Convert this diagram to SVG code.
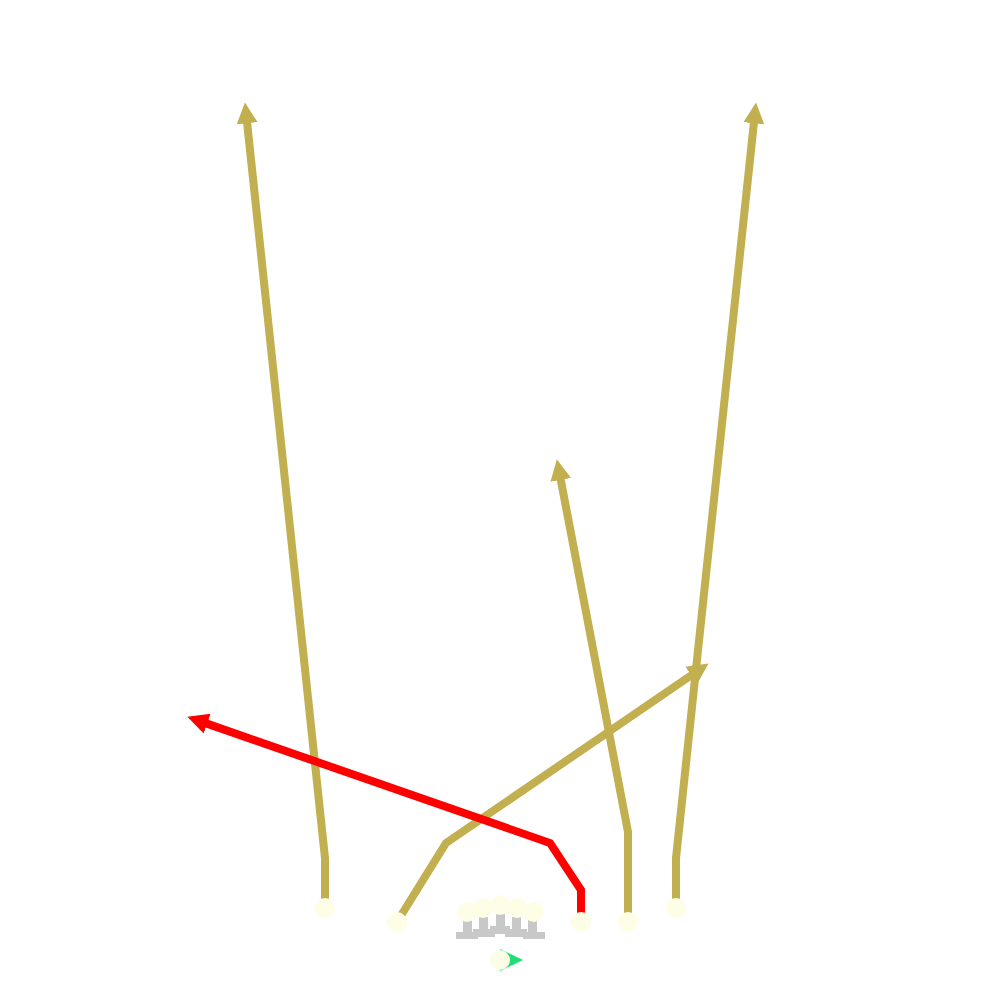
<svg xmlns="http://www.w3.org/2000/svg" width="1000" height="1000" viewBox="0 0 1000 1000">
<style>
.edge{fill:none;stroke-width:8;stroke-linejoin:miter}
.olive{stroke:#c2af4f}
.red{stroke:#ff0000}
.node{fill:#fefde6}
.gray{fill:#c8c8c8}
</style>
<defs>
<marker id="ahO" viewBox="0 0 10 10" refX="3" refY="5" markerUnits="userSpaceOnUse" markerWidth="21" markerHeight="22" orient="auto"><path d="M0,0 L10,5 L0,10 z" fill="#c2af4f"/></marker>
<marker id="ahR" viewBox="0 0 10 10" refX="3" refY="5" markerUnits="userSpaceOnUse" markerWidth="21" markerHeight="22" orient="auto"><path d="M0,0 L10,5 L0,10 z" fill="#ff0000"/></marker>
</defs>
<rect width="1000" height="1000" fill="#ffffff"/>
<g id="connectors">
<polyline class="edge olive" points="325,908 325,858 246.5,117" marker-end="url(#ahO)"/>
<polyline class="edge olive" points="676,908 676,858 754.5,117" marker-end="url(#ahO)"/>
<polyline class="edge olive" points="628,922 628,832 559.6,473.7" marker-end="url(#ahO)"/>
<polyline class="edge olive" points="397,922 446,843 696.4,671.8" marker-end="url(#ahO)"/>
<polyline class="edge red" points="581,922 581,890 550,843 201.2,721.6" marker-end="url(#ahR)"/>
</g>
<g id="n1"><circle class="node" cx="325" cy="908" r="10"/></g>
<g id="n2"><circle class="node" cx="397" cy="922" r="10"/></g>
<g id="n3"><circle class="node" cx="581" cy="922" r="10"/></g>
<g id="n4"><circle class="node" cx="628" cy="922" r="10"/></g>
<g id="n5"><circle class="node" cx="676" cy="908" r="10"/></g>
<g id="group">
<rect class="gray" x="456" y="932" width="22" height="7"/>
<rect class="gray" x="473" y="929" width="22" height="8"/>
<rect class="gray" x="490" y="926" width="20" height="8"/>
<rect class="gray" x="505" y="929" width="22" height="8"/>
<rect class="gray" x="523" y="932" width="22" height="7"/>
<rect class="gray" x="463" y="920" width="9" height="13"/>
<rect class="gray" x="479" y="917" width="9" height="13"/>
<rect class="gray" x="496" y="914" width="9" height="13"/>
<rect class="gray" x="512" y="917" width="9" height="13"/>
<rect class="gray" x="528" y="920" width="9" height="13"/>
<circle class="node" cx="467" cy="912" r="10"/>
<circle class="node" cx="483" cy="908" r="10"/>
<circle class="node" cx="500" cy="905" r="10"/>
<circle class="node" cx="517" cy="908" r="10"/>
<circle class="node" cx="534" cy="912" r="10"/>
</g>
<g id="start">
<path d="M500,949 L523,960 L500,971 z" fill="#22dd77"/>
<circle class="node" cx="500" cy="960" r="10"/>
</g>
</svg>
